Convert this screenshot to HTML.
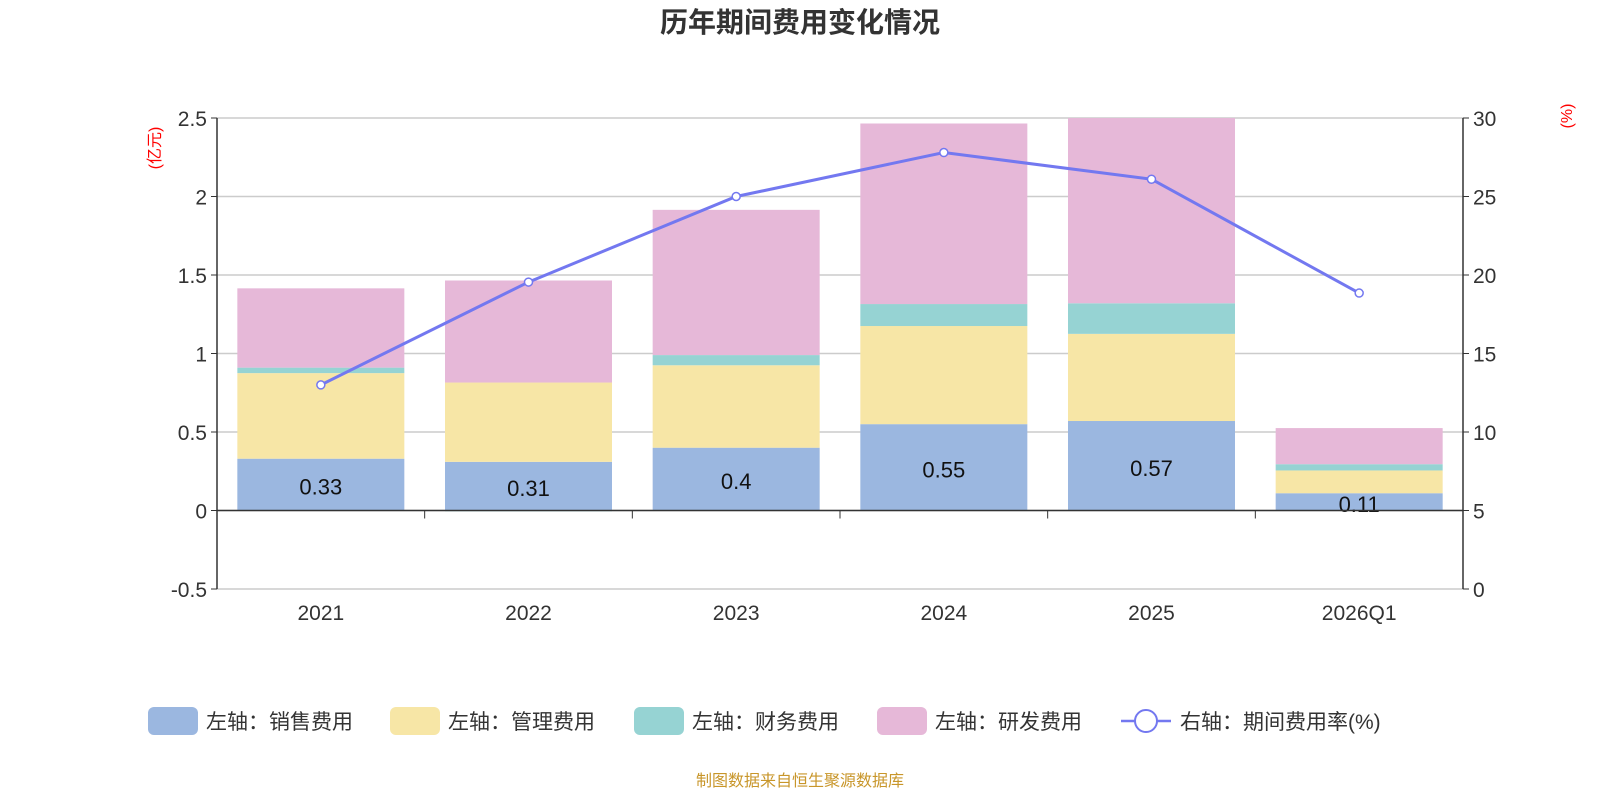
<!DOCTYPE html>
<html><head><meta charset="utf-8">
<style>
body{margin:0;background:#fff;font-family:"Liberation Sans","Noto Sans CJK SC",sans-serif;}
svg text{font-family:"Liberation Sans","Noto Sans CJK SC",sans-serif;}
</style></head>
<body>
<svg id="chart" width="1600" height="800">
<text x="800" y="32" text-anchor="middle" font-size="28" font-weight="bold" fill="#333">历年期间费用变化情况</text>
<text x="160" y="148" font-size="16" fill="#f00" transform="rotate(-90 160 148)" text-anchor="middle">(亿元)</text>
<text x="1572" y="116" font-size="16" fill="#f00" transform="rotate(-90 1572 116)" text-anchor="middle">(%)</text>
<g id="grid"></g><g id="bars"></g><g id="axes"></g><g id="line"></g>
<g id="legend"></g>
<text x="800" y="786" text-anchor="middle" font-size="16" fill="#c8962a">制图数据来自恒生聚源数据库</text>
</svg>
<script>
const categories=["2021","2022","2023","2024","2025","2026Q1"];
const sales=[0.33,0.31,0.40,0.55,0.57,0.11];
const admin=[0.545,0.505,0.525,0.625,0.555,0.145];
const finance=[0.035,-0.005,0.065,0.14,0.195,0.04];
const rnd=[0.505,0.65,0.925,1.15,1.28,0.23];
const rate=[13.0,19.55,25.0,27.8,26.1,18.85];
const leftTicks=[-0.5,0,0.5,1,1.5,2,2.5];
const rightTicks=[0,5,10,15,20,25,30];
const salesLabels=["0.33","0.31","0.4","0.55","0.57","0.11"];

const NS="http://www.w3.org/2000/svg";
const X0=217,X1=1463,YT=118,YB=589;
const yL=v=>YB-(v+0.5)/3*(YB-YT);
const yR=v=>YB-v/30*(YB-YT);
const band=(X1-X0)/categories.length;
const xC=i=>X0+band*(i+0.5);
function mk(tag,attrs,parent){const e=document.createElementNS(NS,tag);for(const k in attrs)e.setAttribute(k,attrs[k]);parent.appendChild(e);return e;}
const grid=document.getElementById('grid'),bars=document.getElementById('bars'),axes=document.getElementById('axes'),line=document.getElementById('line'),legend=document.getElementById('legend');
leftTicks.forEach((t,i)=>{
 const g=mk('line',{x1:X0,x2:X1,y1:yL(t),y2:yL(t),stroke:'#ccc','stroke-width':1.5},grid);
 
 
 const tx=mk('text',{x:X0-10,y:yL(t)+8,'text-anchor':'end','font-size':21,fill:'#333'},axes);tx.textContent=t;
 
 
 mk('line',{x1:X0-6,x2:X0,y1:yL(t),y2:yL(t),stroke:'#333'},axes);
});
rightTicks.forEach(t=>{
 const tx=mk('text',{x:X1+10,y:yR(t)+8,'font-size':21,fill:'#333'},axes);tx.textContent=t;
 
 
 mk('line',{x1:X1,x2:X1+6,y1:yR(t),y2:yR(t),stroke:'#333'},axes);
});
mk('line',{x1:X0,x2:X0,y1:YT,y2:YB,stroke:'#333','stroke-width':1.5},axes);
mk('line',{x1:X1,x2:X1,y1:YT,y2:YB,stroke:'#333','stroke-width':1.5},axes);
mk('line',{x1:X0,x2:X1,y1:yL(0),y2:yL(0),stroke:'#333','stroke-width':1.5},axes);
for(let i=0;i<=categories.length;i++)mk('line',{x1:X0+band*i,x2:X0+band*i,y1:yL(0),y2:yL(0)+8,stroke:'#333'},axes);
const cp=mk('clipPath',{id:'plotclip'},bars);mk('rect',{x:X0,y:YT,width:X1-X0,height:YB-YT},cp);
const series=[[sales,'#9bb7e0','sales'],[admin,'#f7e6a6','admin'],[finance,'#96d3d3','finance'],[rnd,'#e6b8d8','rnd']];
const bw=167;
categories.forEach((c,i)=>{
 let pos=0,neg=0;
 series.forEach(([arr,col,nm])=>{
  const v=arr[i];let a,b;
  if(v>=0){a=pos;b=pos+v;pos=b;}else{a=neg+v;b=neg;neg=a;}
  const r=mk('rect',{x:xC(i)-bw/2,y:yL(b),width:bw,height:Math.max(yL(a)-yL(b),0.5),fill:col,'clip-path':'url(#plotclip)'},bars);
  
  
 });
 const lb=mk('text',{x:xC(i),y:(yL(0)+yL(sales[i]))/2+10,'text-anchor':'middle','font-size':22,fill:'#111'},bars);lb.textContent=salesLabels[i];
 
 
 const ct=mk('text',{x:xC(i),y:620,'text-anchor':'middle','font-size':21,fill:'#333'},axes);ct.textContent=c;
 
 
});
const pl=mk('polyline',{points:rate.map((v,i)=>xC(i)+','+yR(v)).join(' '),fill:'none',stroke:'#7378f0','stroke-width':3},line);


rate.forEach((v,i)=>{const p=mk('circle',{cx:xC(i),cy:yR(v),r:4,fill:'#fff',stroke:'#7378f0','stroke-width':1.5},line);
 
 });
const leg=[['#9bb7e0','左轴：销售费用',148],['#f7e6a6','左轴：管理费用',390],['#96d3d3','左轴：财务费用',634],['#e6b8d8','左轴：研发费用',877]];
leg.forEach(([c,t,x])=>{
 const r=mk('rect',{x:x,y:707,width:50,height:28,rx:6,fill:c},legend);
 
 
 const tx=mk('text',{x:x+58,y:729,'font-size':21,fill:'#333'},legend);tx.textContent=t;
 
 
});
mk('line',{x1:1121,x2:1171,y1:721,y2:721,stroke:'#7378f0','stroke-width':2.5},legend);
mk('circle',{cx:1146,cy:721,r:11,fill:'#fff',stroke:'#7378f0','stroke-width':2},legend);
const lt=mk('text',{x:1180,y:729,'font-size':21,fill:'#333'},legend);lt.textContent='右轴：期间费用率(%)';


</script>
</body></html>
